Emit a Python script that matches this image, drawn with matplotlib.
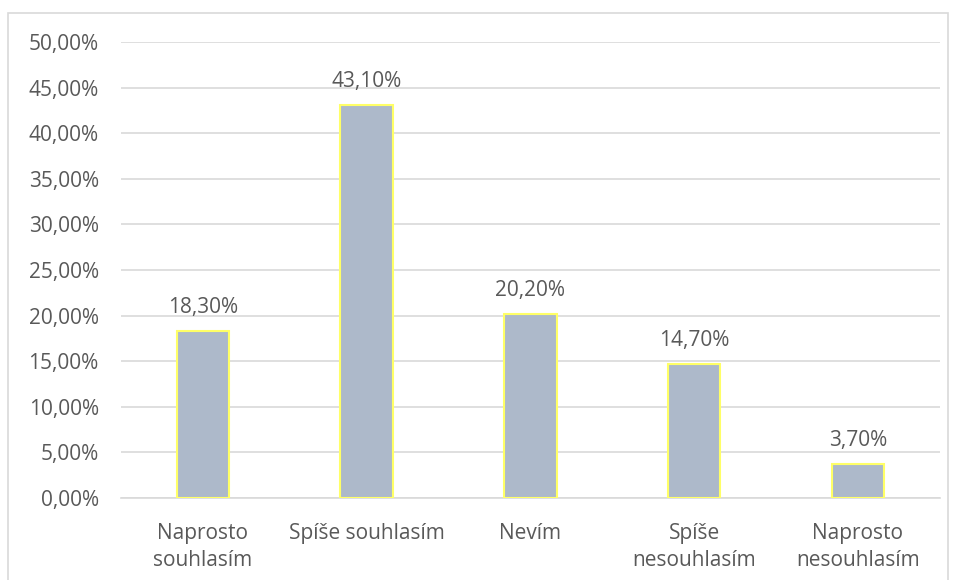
import matplotlib.pyplot as plt
from matplotlib.patches import Rectangle
from matplotlib.ticker import MultipleLocator, FuncFormatter

categories = ['Naprosto\nsouhlasím', 'Spíše souhlasím', 'Nevím',
              'Spíše\nnesouhlasím', 'Naprosto\nnesouhlasím']
values = [18.30, 43.10, 20.20, 14.70, 3.70]

plt.rcParams['font.family'] = ['Open Sans', 'DejaVu Sans']
text_color = '#595959'
fsize = 15

fig = plt.figure(figsize=(9.55, 5.8), dpi=100)
ax = fig.add_axes([0.1267, 0.1414, 0.8573, 0.7862])

x = range(len(categories))
bars = ax.bar(x, values, width=0.32, color='#ADB9CA',
              edgecolor='#FFFF66', linewidth=1.5, zorder=3)

for xi, v in zip(x, values):
    ax.text(xi, v + 1.4, f'{v:.2f}%'.replace('.', ','), ha='center', va='bottom',
            fontsize=fsize, color=text_color)

ax.set_xlim(-0.5, len(categories) - 0.5)
ax.set_ylim(0, 50)
ax.yaxis.set_major_locator(MultipleLocator(5))
ax.yaxis.set_major_formatter(FuncFormatter(lambda v, _: f'{v:.2f}%'.replace('.', ',')))
ax.set_xticks(list(x))
ax.set_xticklabels(categories, linespacing=1.4)

ax.grid(axis='y', color='#D9D9D9', linewidth=1.2, zorder=0)
for side in ['top', 'right', 'left']:
    ax.spines[side].set_visible(False)
ax.spines['bottom'].set_color('#D9D9D9')
ax.spines['bottom'].set_linewidth(1.2)
ax.tick_params(length=0, labelsize=fsize, labelcolor=text_color)
ax.tick_params(axis='y', pad=16)
ax.tick_params(axis='x', pad=18)

# chart frame
fig.patches.append(Rectangle((8 / 955, -0.01), 940 / 955, 1 - 13 / 580 + 0.01,
                             transform=fig.transFigure, fill=False,
                             edgecolor='#D9D9D9', linewidth=1.2))

fig.savefig('out.png', dpi=100)
